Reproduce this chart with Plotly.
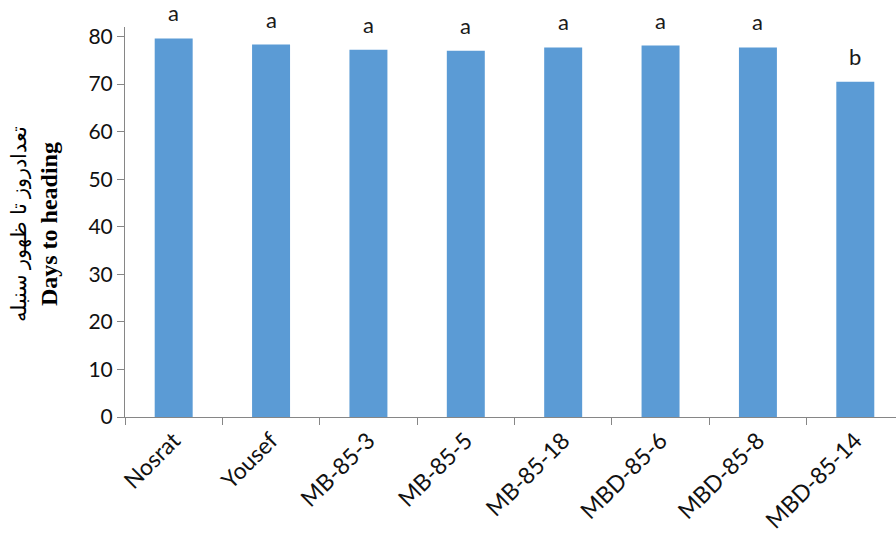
import plotly.graph_objects as go

categories = ["Nosrat", "Yousef", "MB-85-3", "MB-85-5", "MB-85-18", "MBD-85-6", "MBD-85-8", "MBD-85-14"]
days_to_heading = [79.6, 78.3, 77.2, 77.0, 77.7, 78.1, 77.7, 70.5]
letters = ["a", "a", "a", "a", "a", "a", "a", "b"]
y_ticks = [0, 10, 20, 30, 40, 50, 60, 70, 80]

BAR = "#5B9BD5"
AXIS = "#868686"
FONT = "Lato"

fig = go.Figure()
fig.add_trace(go.Bar(
    x=categories, y=days_to_heading,
    marker=dict(color=BAR, line=dict(width=0)),
    width=0.39,
))

for c, v, t in zip(categories, days_to_heading, letters):
    fig.add_annotation(x=c, y=v, text=t, showarrow=False, yanchor="bottom",
                       yshift=10, font=dict(family=FONT, size=22, color="#1a1a1a"))

fig.add_annotation(
    xref="paper", yref="paper", x=0, y=0.495, xanchor="center", yanchor="middle",
    xshift=-90, textangle=-90, showarrow=False,
    text="<span style='font-size:21px'>تعدادروز تا ظهور سنبله</span><br><b>Days to heading</b>",
    font=dict(family="Liberation Serif", size=24, color="black"),
)

fig.update_layout(
    width=896, height=538,
    margin=dict(l=125, r=0, t=27, b=121),
    paper_bgcolor="white", plot_bgcolor="white",
    showlegend=False,
)
fig.update_xaxes(
    range=[-0.5, 7.418], tickson="boundaries", ticks="outside", ticklen=7,
    tickcolor=AXIS, showline=True, linecolor=AXIS, linewidth=1,
    tickangle=-45, tickfont=dict(family=FONT, size=23, color="#111"),
    showgrid=False, automargin=False,
)
fig.update_yaxes(
    range=[0, 82], tickvals=y_ticks, ticks="outside", ticklen=7,
    tickcolor=AXIS, showline=True, linecolor=AXIS, linewidth=1,
    tickfont=dict(family=FONT, size=21, color="#111"),
    showgrid=False, zeroline=False, automargin=False,
)

fig.write_html("out.html", config={"displayModeBar": False},
               post_script="document.body.style.margin='0';")
